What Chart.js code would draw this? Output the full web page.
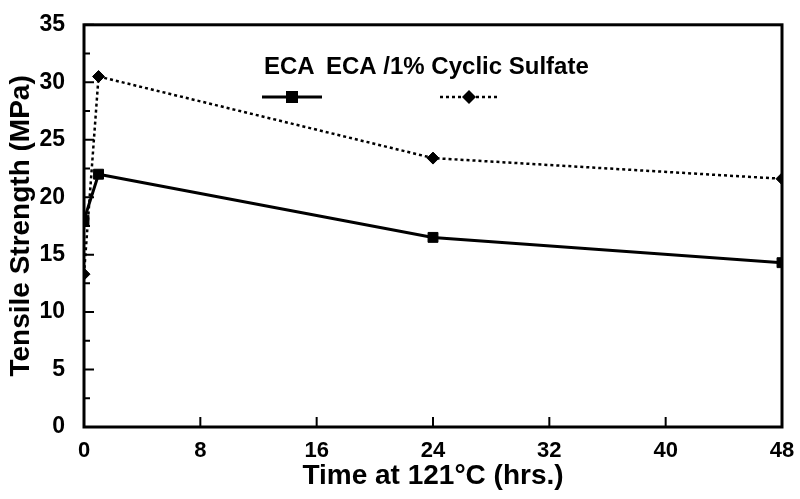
<!DOCTYPE html>
<html>
<head>
<meta charset="utf-8">
<script src="https://cdn.jsdelivr.net/npm/chart.js@4"></script>
<style>
  body { margin: 0; background: #fff; }
  #wrap { width: 800px; height: 499px; }
</style>
</head>
<body>
<div id="wrap"><canvas id="mychart" width="800" height="499"></canvas></div>
<script>
// data
let hours = [0, 1, 24, 48];
let ecaValues = [18, 22, 16.5, 14.3];
let sulfateValues = [13.3, 30.5, 23.4, 21.6];
let xTicks = [0, 8, 16, 24, 32, 40, 48];
let yTicks = [0, 5, 10, 15, 20, 25, 30, 35];
let yMinorTicks = [2.5, 7.5, 12.5, 17.5, 22.5, 27.5, 32.5];

const plainFont = "'Liberation Sans', Arial, sans-serif";

function toPoints(xs, ys) {
    return xs.map((x, i) => ({ x: x, y: ys[i] }));
}

// frame, inside ticks and the odd legend
const decor = {
    id: 'decor',
    afterDraw(chart) {
        const c = chart.ctx;
        const a = chart.chartArea;
        const xs = chart.scales.x;
        const ys = chart.scales.y;
        c.save();
        c.strokeStyle = '#000';
        c.lineWidth = 3;
        c.strokeRect(a.left, a.top, a.right - a.left, a.bottom - a.top);
        c.lineWidth = 2;
        c.beginPath();
        yTicks.forEach(v => {
            const py = ys.getPixelForValue(v);
            c.moveTo(a.left, py); c.lineTo(a.left + 10, py);
        });
        yMinorTicks.forEach(v => {
            const py = ys.getPixelForValue(v);
            c.moveTo(a.left, py); c.lineTo(a.left + 6, py);
        });
        xTicks.forEach(v => {
            const px = xs.getPixelForValue(v);
            c.moveTo(px, a.bottom); c.lineTo(px, a.bottom - 10);
        });
        c.stroke();

        // legend
        c.fillStyle = '#000';
        c.font = 'bold 24px ' + plainFont;
        c.textBaseline = 'middle';
        c.textAlign = 'left';
        c.fillText('ECA', 264, 67);
        c.fillText('ECA /1% Cyclic Sulfate', 326, 67);

        c.lineWidth = 3;
        c.setLineDash([]);
        c.beginPath(); c.moveTo(262, 97); c.lineTo(322, 97); c.stroke();
        c.fillRect(286, 91, 12, 12);

        c.lineWidth = 2.5;
        c.setLineDash([3, 3]);
        c.beginPath(); c.moveTo(440, 97); c.lineTo(498, 97); c.stroke();
        c.setLineDash([]);
        c.beginPath();
        c.moveTo(469, 90); c.lineTo(476, 97); c.lineTo(469, 104); c.lineTo(462, 97);
        c.closePath(); c.fill();
        c.restore();
    }
};

const ctx = document.getElementById('mychart');

new Chart(ctx, {
    type: 'line',
    data: {
        datasets: [{
            label: 'ECA',
            data: toPoints(hours, ecaValues),
            borderColor: '#000',
            backgroundColor: '#000',
            borderWidth: 3,
            pointStyle: 'rect',
            pointRadius: 7,
            pointBorderWidth: 1,
            tension: 0
        }, {
            label: 'ECA /1% Cyclic Sulfate',
            data: toPoints(hours, sulfateValues),
            borderColor: '#000',
            backgroundColor: '#000',
            borderWidth: 2.5,
            borderDash: [3, 3],
            pointStyle: 'rectRot',
            pointRadius: 6,
            pointBorderWidth: 1,
            tension: 0
        }]
    },
    options: {
        responsive: false,
        animation: false,
        layout: { padding: { top: 23, right: 18, left: 0, bottom: 0 } },
        plugins: {
            legend: { display: false },
            tooltip: { enabled: false }
        },
        scales: {
            x: {
                type: 'linear',
                min: 0,
                max: 48,
                afterFit(scale) { scale.height = 72; },
                afterBuildTicks(scale) { scale.ticks = xTicks.map(v => ({ value: v })); },
                grid: { display: false },
                border: { display: false },
                ticks: {
                    color: '#000',
                    padding: 3,
                    maxRotation: 0,
                    font: { family: plainFont, size: 22, weight: 'bold' }
                },
                title: {
                    display: true,
                    text: 'Time at 121°C (hrs.)',
                    color: '#000',
                    padding: { top: 0, bottom: 6 },
                    font: { family: plainFont, size: 28, weight: 'bold' }
                }
            },
            y: {
                min: 0,
                max: 35,
                afterFit(scale) { scale.width = 84; },
                afterBuildTicks(scale) { scale.ticks = yTicks.map(v => ({ value: v })); },
                grid: { display: false },
                border: { display: false },
                ticks: {
                    color: '#000',
                    padding: 11,
                    font: { family: plainFont, size: 23, weight: 'bold' }
                },
                title: {
                    display: true,
                    text: 'Tensile Strength (MPa)',
                    color: '#000',
                    padding: { top: 4, bottom: 0 },
                    font: { family: plainFont, size: 28, weight: 'bold' }
                }
            }
        }
    },
    plugins: [decor]
});
</script>
</body>
</html>
